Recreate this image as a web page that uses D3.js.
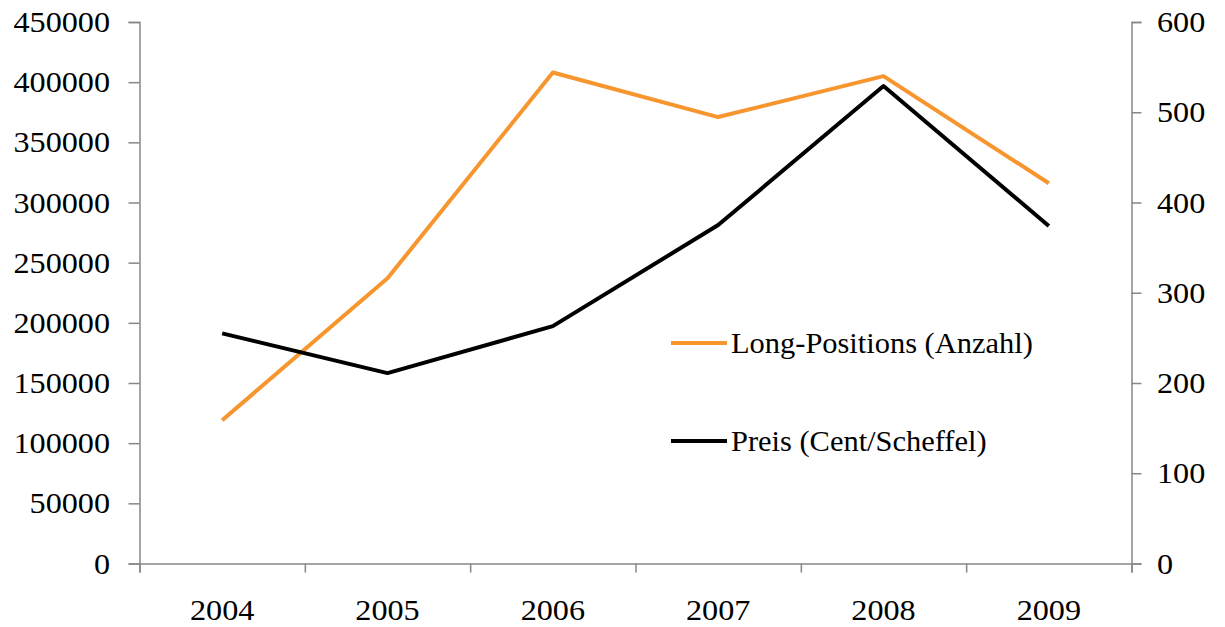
<!DOCTYPE html>
<html>
<head>
<meta charset="utf-8">
<script src="https://cdn.jsdelivr.net/npm/d3@7"></script>
<style>
  body { margin: 0; background: #fff; }
  text { font-family: "Liberation Serif", "Times New Roman", serif; fill: #000; }
</style>
</head>
<body>
<div id="chart"></div>
<script>
// data
let years = ["2004", "2005", "2006", "2007", "2008", "2009"];
let longPositions = [119000, 237000, 408000, 371000, 405000, 316000]; // left axis
let preis = [255, 211, 263, 375, 529, 374]; // right axis, Cent/Scheffel
let leftTicks = [0, 50000, 100000, 150000, 200000, 250000, 300000, 350000, 400000, 450000];
let rightTicks = [0, 100, 200, 300, 400, 500, 600];
let legendNames = ["Long-Positions (Anzahl)", "Preis (Cent/Scheffel)"];

let width = 1225, height = 627;
let plotLeft = 139.5, plotRight = 1131.5, plotTop = 22, plotBottom = 563.5;
let fs = 29, stretch = 1.11; // serif text looks a bit wider than normal

let svg = d3.select("#chart").append("svg")
    .attr("width", width)
    .attr("height", height);

let x = d3.scaleBand().domain(years).range([plotLeft, plotRight]).padding(0);
let yL = d3.scaleLinear().domain([0, 450000]).range([plotBottom, plotTop]);
let yR = d3.scaleLinear().domain([0, 600]).range([plotBottom, plotTop]);

function styleAxis(g) {
    g.select(".domain").attr("stroke", "#878787").attr("stroke-width", 1.5);
    g.selectAll(".tick line").attr("stroke", "#878787").attr("stroke-width", 1.5);
    g.selectAll("text").remove();
}

// left axis
let gl = svg.append("g").attr("transform", `translate(${plotLeft},0)`)
    .call(d3.axisLeft(yL).tickValues(leftTicks).tickSizeOuter(0).tickSize(11));
styleAxis(gl);
svg.selectAll(".lt").data(leftTicks).enter().append("text")
    .attr("transform", d => `translate(110,${yL(d) + 10}) scale(${stretch},1)`)
    .attr("text-anchor", "end")
    .attr("font-size", fs)
    .text(d => d);

// right axis
let gr = svg.append("g").attr("transform", `translate(${plotRight},0)`)
    .call(d3.axisRight(yR).tickValues(rightTicks).tickSizeOuter(0).tickSize(10));
styleAxis(gr);
svg.selectAll(".rt").data(rightTicks).enter().append("text")
    .attr("transform", d => `translate(1157,${yR(d) + 10}) scale(${stretch},1)`)
    .attr("text-anchor", "start")
    .attr("font-size", fs)
    .text(d => d);

// x axis, ticks sit between the categories
let xb = d3.scaleLinear().domain([0, years.length]).range([plotLeft, plotRight]);
let gx = svg.append("g").attr("transform", `translate(0,${plotBottom})`)
    .call(d3.axisBottom(xb).ticks(years.length).tickSizeOuter(0).tickSize(9));
styleAxis(gx);
svg.selectAll(".xt").data(years).enter().append("text")
    .attr("transform", d => `translate(${x(d) + x.bandwidth() / 2},620) scale(${stretch},1)`)
    .attr("text-anchor", "middle")
    .attr("font-size", fs)
    .text(d => d);

// lines
let cx = (d, i) => x(years[i]) + x.bandwidth() / 2;
let lineL = d3.line().x(cx).y(d => yL(d));
let lineR = d3.line().x(cx).y(d => yR(d));

svg.append("path")
    .attr("d", lineL(longPositions))
    .attr("fill", "none")
    .attr("stroke", "#F7952F")
    .attr("stroke-width", 4)
    .attr("stroke-linejoin", "round");

svg.append("path")
    .attr("d", lineR(preis))
    .attr("fill", "none")
    .attr("stroke", "#000")
    .attr("stroke-width", 4)
    .attr("stroke-linejoin", "round");

// legend
let legColors = ["#F7952F", "#000"];
let legY = [343, 441];
legendNames.forEach((name, i) => {
    svg.append("line")
        .attr("x1", 671).attr("x2", 727)
        .attr("y1", legY[i]).attr("y2", legY[i])
        .attr("stroke", legColors[i])
        .attr("stroke-width", 4);
    svg.append("text")
        .attr("transform", `translate(731,${legY[i] + 10}) scale(1.05,1)`)
        .attr("font-size", fs)
        .text(name);
});
</script>
</body>
</html>
